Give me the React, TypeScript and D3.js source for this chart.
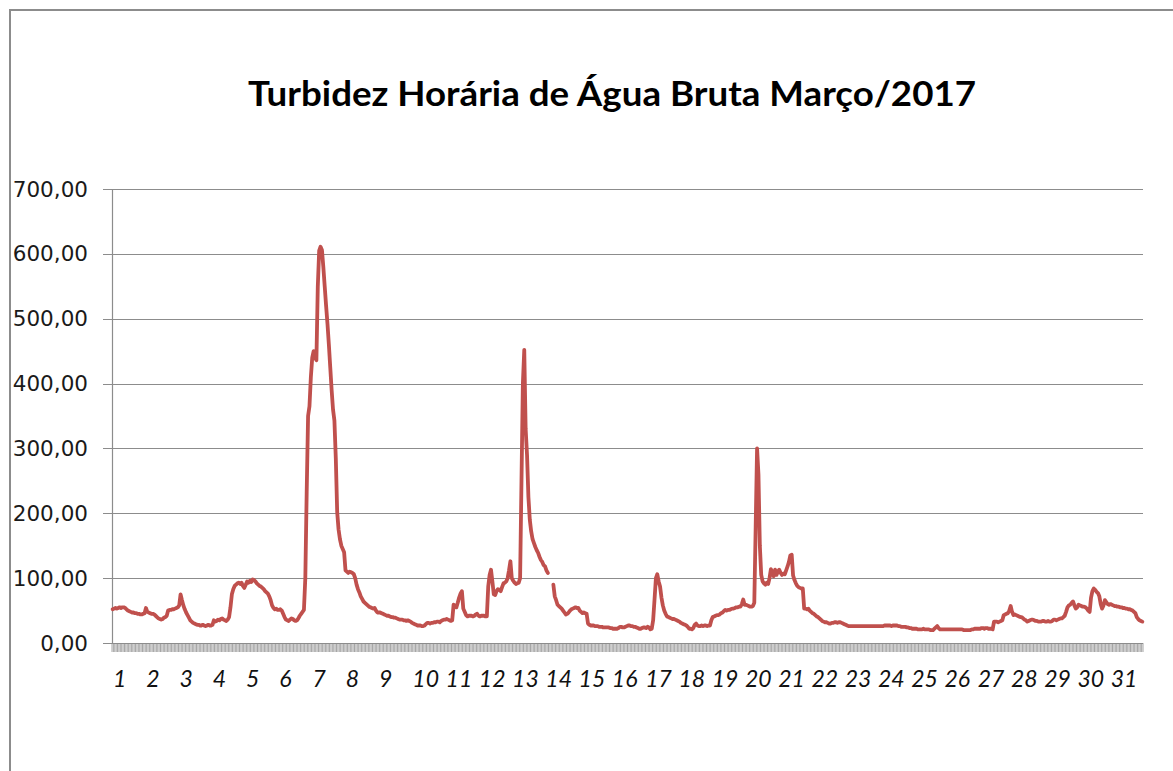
import * as d3 from 'd3';

// hourly raw-water turbidity, one array per day of March 2017 (24 readings each)
const title = 'Turbidez Horária de Água Bruta Março/2017';

const d01 = [52,53,54,53,54,55,54,55,55,54,52,50,49,48,47,47,46,46,45,45,44,44,45,46];
const d02 = [54,48,47,46,45,45,44,42,40,38,37,36,37,39,40,42,50,51,51,52,52,53,54,55];
const d03 = [58,75,66,58,52,47,43,39,35,33,31,30,29,28,28,27,27,28,27,26,27,28,27,27];
const d04 = [28,35,33,34,36,35,37,38,36,35,34,36,40,55,75,83,88,90,92,93,91,93,88,85];
const d05 = [90,95,93,96,94,98,97,95,92,90,88,87,85,83,80,78,76,72,66,58,54,52,53,51];
const d06 = [51,52,50,45,40,36,35,34,36,38,37,35,34,35,38,42,45,48,51,100,233,350,365,410];
const d07 = [440,450,440,436,549,605,611,606,580,550,520,492,460,425,390,360,343,285,202,175,160,150,145,140];
const d08 = [112,110,108,110,109,108,106,100,90,83,78,72,68,64,62,60,58,56,55,54,53,54,50,47];
const d09 = [47,47,46,45,44,43,42,42,41,40,40,39,39,38,37,36,36,36,35,35,34,35,34,33];
const d10 = [31,30,29,28,27,27,27,26,26,27,29,31,31,30,31,31,32,32,33,33,32,34,35,36];
const d11 = [36,37,36,35,34,35,59,57,55,62,70,76,80,53,48,43,41,42,42,42,41,42,44,45];
const d12 = [42,41,42,42,42,41,41,87,105,113,95,75,74,80,83,82,80,86,92,93,95,100,112,126];
const d13 = [100,96,93,91,92,93,100,250,400,452,330,290,225,190,172,160,154,148,143,139,133,128,125,120];
const d14 = [118,112,108,null,null,null,90,72,66,59,57,55,53,50,47,44,45,47,50,52,53,54,55,54];
const d15 = [54,50,48,46,47,46,45,30,28,27,27,27,26,26,26,25,25,25,24,24,24,24,24,23];
const d16 = [23,22,22,22,22,23,25,25,24,24,25,26,27,27,26,26,25,25,24,23,22,22,23,24];
const d17 = [24,23,25,24,21,22,35,67,100,106,95,87,70,58,50,45,41,40,39,38,37,37,36,35];
const d18 = [34,33,31,30,29,28,27,25,22,22,21,23,28,30,27,26,26,27,26,27,27,26,27,27];
const d19 = [35,40,41,42,43,43,44,46,47,49,51,50,51,51,52,53,53,54,55,55,56,56,60,67];
const d20 = [59,59,58,57,56,56,57,62,180,300,260,150,105,95,92,90,93,91,100,114,108,103,113,105];
const d21 = [110,113,108,105,107,106,112,118,125,135,136,104,97,92,88,86,85,84,84,53,53,52,53,50];
const d22 = [48,46,45,43,41,40,38,36,34,33,32,32,31,30,30,31,31,32,32,31,32,32,31,30];
const d23 = [29,28,27,26,26,26,26,26,26,26,26,26,26,26,26,26,26,26,26,26,26,26,26,26];
const d24 = [26,26,26,26,26,27,27,27,27,27,26,27,27,27,27,26,26,25,25,25,25,24,24,23];
const d25 = [23,22,22,22,22,21,21,21,21,22,21,21,21,21,20,20,20,22,24,26,23,21,21,21];
const d26 = [21,21,21,21,21,21,21,21,21,21,21,21,21,21,20,20,20,20,20,20,21,21,22,22];
const d27 = [22,22,22,23,23,22,23,23,22,22,22,21,33,33,33,32,33,34,35,43,44,45,46,50];
const d28 = [57,48,43,44,43,42,41,40,40,38,36,35,33,34,35,36,36,35,34,34,33,33,33,34];
const d29 = [34,33,33,34,33,33,34,36,36,35,36,37,38,38,40,42,48,55,58,59,62,64,58,53];
const d30 = [55,59,58,57,56,56,55,53,50,48,70,80,84,82,79,77,72,60,53,58,66,63,60,59];
const d31 = [60,59,58,57,57,56,56,55,55,54,54,53,53,52,52,51,50,48,46,40,37,35,34,33];

const days = [d01,d02,d03,d04,d05,d06,d07,d08,d09,d10,d11,d12,d13,d14,d15,d16,
  d17,d18,d19,d20,d21,d22,d23,d24,d25,d26,d27,d28,d29,d30,d31];
const dayLabels = ['1','2','3','4','5','6','7','8','9','10','11','12','13','14','15','16',
  '17','18','19','20','21','22','23','24','25','26','27','28','29','30','31'];
const yTicks = [0, 100, 200, 300, 400, 500, 600, 700];

const W = 1173;
const H = 771;
const left = 112, right = 1143, top = 189, bottom = 643;

export default function App() {
  const values: (number | null)[] = days.flat();
  const n = values.length;

  const x = d3.scaleLinear().domain([0, n]).range([left, right]);
  const y = d3.scaleLinear().domain([0, 700]).range([bottom, top]);

  const line = d3.line<number | null>()
    .defined(d => d != null)
    .x((_, i) => x(i + 0.5))
    .y(d => y(d as number));

  const fmt = (v: number) => v.toFixed(2).replace('.', ',');
  const hourTicks = d3.range(n + 1);

  return (
    <svg width={W} height={H} style={{ position: 'absolute', left: 0, top: 0, background: '#fff' }}>
      <rect x={0} y={0} width={W} height={H} fill="#fff" />
      <rect x={10} y={10} width={W + 40} height={H + 40} fill="none" stroke="#8c8c8c" strokeWidth={2} />

      <text x={612} y={106} textAnchor="middle" fontFamily="Lato, 'Open Sans', sans-serif"
        fontWeight="bold" fontSize={34} fill="#000" textLength={728} lengthAdjust="spacingAndGlyphs">
        {title}
      </text>

      {/* grid + y axis */}
      {yTicks.map(t => (
        <g key={t}>
          <line x1={left - 9} x2={right} y1={Math.round(y(t)) + 0.5} y2={Math.round(y(t)) + 0.5}
            stroke="#8c8c8c" strokeWidth={1.2} />
          <text x={88} y={y(t)} textAnchor="end" dominantBaseline="central"
            fontFamily="'DejaVu Sans', Verdana, sans-serif" fontSize={21.5} fill="#1a1a1a">
            {fmt(t)}
          </text>
        </g>
      ))}
      <line x1={left + 0.5} x2={left + 0.5} y1={top} y2={bottom} stroke="#8c8c8c" strokeWidth={1.2} />

      {/* x axis: one tick per hour */}
      <g stroke="#8f8f8f" strokeWidth={0.8}>
        {hourTicks.map(i => (
          <line key={i} x1={x(i)} x2={x(i)} y1={bottom} y2={bottom + 9} />
        ))}
      </g>
      <line x1={left} x2={right} y1={bottom + 0.5} y2={bottom + 0.5} stroke="#8c8c8c" strokeWidth={1.2} />
      {dayLabels.map((lbl, i) => (
        <text key={lbl} x={x(i * 24) + 1} y={687} textAnchor="start"
          fontFamily="Lato, 'Open Sans', sans-serif" fontStyle="italic" fontSize={23} fill="#111">
          {lbl}
        </text>
      ))}

      <path d={line(values) ?? ''} fill="none" stroke="#c0504d" strokeWidth={3.8}
        strokeLinejoin="round" strokeLinecap="round" />
    </svg>
  );
}
